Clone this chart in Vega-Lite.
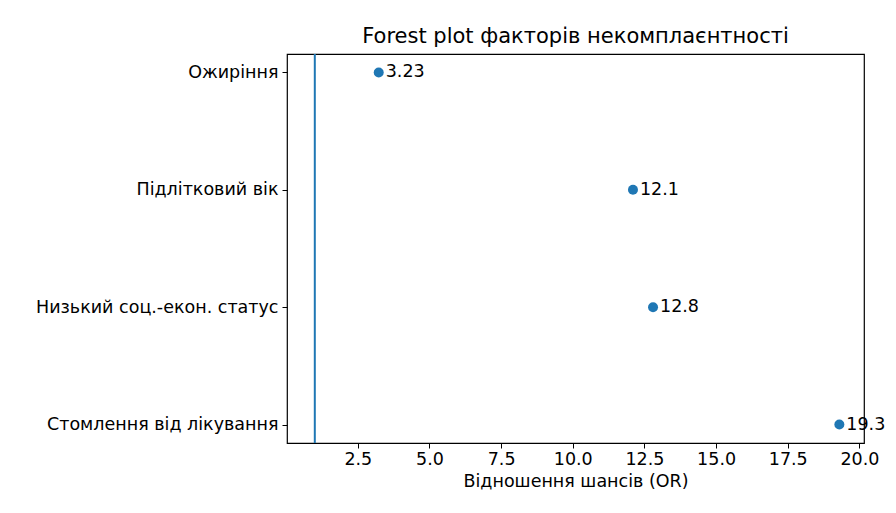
{
  "$schema": "https://vega.github.io/schema/vega-lite/v6.json",
  "width": 577,
  "height": 389,
  "autosize": "none",
  "padding": {"left": 287, "top": 54, "right": 32, "bottom": 70},
  "background": "white",
  "title": {"text": "Forest plot факторів некомплаєнтності", "font": "DejaVu Sans", "fontSize": 21, "fontWeight": "normal", "color": "#000000", "offset": 6},
  "config": {
    "view": {"stroke": "#000000", "strokeWidth": 1.2},
    "axis": {"labelFont": "DejaVu Sans", "titleFont": "DejaVu Sans", "labelColor": "#000000", "titleColor": "#000000", "grid": false, "domain": false, "tickColor": "#000000", "tickSize": 5, "labelFontSize": 17.5, "titleFontSize": 17.5, "titleFontWeight": "normal", "labelLimit": 400}
  },
  "data": {"values": [
    {"factor": "Ожиріння", "or": 3.23, "label": "3.23"},
    {"factor": "Підлітковий вік", "or": 12.1, "label": "12.1"},
    {"factor": "Низький соц.-екон. статус", "or": 12.8, "label": "12.8"},
    {"factor": "Стомлення від лікування", "or": 19.3, "label": "19.3"}
  ]},
  "layer": [
    {
      "data": {"values": [{"ref": 1}]},
      "mark": {"type": "rule", "color": "#1f77b4", "strokeWidth": 2},
      "encoding": {"x": {"field": "ref", "type": "quantitative"}}
    },
    {
      "mark": {"type": "point", "filled": true, "opacity": 1, "color": "#1f77b4", "size": 100},
      "encoding": {
        "x": {"field": "or", "type": "quantitative", "scale": {"domain": [0.03, 20.16], "nice": false, "zero": false}, "axis": {"values": [2.5, 5, 7.5, 10, 12.5, 15, 17.5, 20], "format": ".1f", "title": "Відношення шансів (OR)", "titlePadding": 5}},
        "y": {"field": "factor", "type": "ordinal", "scale": {"type": "point", "padding": 0.157}, "sort": null, "axis": {"title": null, "labelPadding": 4}}
      }
    },
    {
      "mark": {"type": "text", "align": "left", "baseline": "middle", "dx": 7, "font": "DejaVu Sans", "fontSize": 17.5, "color": "#000000"},
      "encoding": {
        "x": {"field": "or", "type": "quantitative"},
        "y": {"field": "factor", "type": "ordinal", "sort": null},
        "text": {"field": "label"}
      }
    }
  ]
}
